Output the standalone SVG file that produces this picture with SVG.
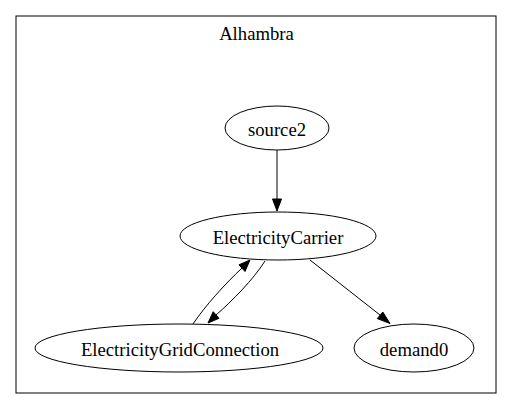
<svg xmlns="http://www.w3.org/2000/svg" width="512" height="409" viewBox="0 0 512 409">
<style>
text{font-family:'Liberation Serif','DejaVu Serif','Times New Roman',serif;font-size:18.7px;text-anchor:middle;fill:#000}
.n ellipse{fill:none;stroke:#000;stroke-width:1}
.e path{fill:none;stroke:#000;stroke-width:1}
.e polygon{fill:#000;stroke:#000;stroke-width:1}
</style>
<rect width="512" height="409" fill="#fff"/>
<g id="cluster_Alhambra">
<rect x="16" y="16" width="480" height="377" fill="none" stroke="#000" stroke-width="1"/>
<text x="256.5" y="40">Alhambra</text>
</g>
<g id="edges" class="e">
<path d="M277,150 L277,199"/>
<polygon points="272.5,199 277,211 281.5,199"/>
<path d="M310,260 L380,315"/>
<polygon points="377.3,318.6 390,323.5 382.8,312"/>
<path d="M193,324 C205,306 225,284 242,268"/>
<polygon points="239,264.8 250,260 245,271.5"/>
<path d="M265,261 C253,280 232,301 216,315"/>
<polygon points="219,318.3 208,323 213.2,311.7"/>
</g>
<g id="source2" class="n">
<ellipse cx="277" cy="128" rx="52" ry="22"/>
<text x="277" y="136">source2</text>
</g>
<g id="ElectricityCarrier" class="n">
<ellipse cx="278" cy="236" rx="98" ry="24"/>
<text x="278" y="244">ElectricityCarrier</text>
</g>
<g id="ElectricityGridConnection" class="n">
<ellipse cx="179" cy="348" rx="144" ry="24"/>
<text x="180" y="356">ElectricityGridConnection</text>
</g>
<g id="demand0" class="n">
<ellipse cx="414" cy="348" rx="60" ry="24"/>
<text x="414" y="356">demand0</text>
</g>
</svg>
